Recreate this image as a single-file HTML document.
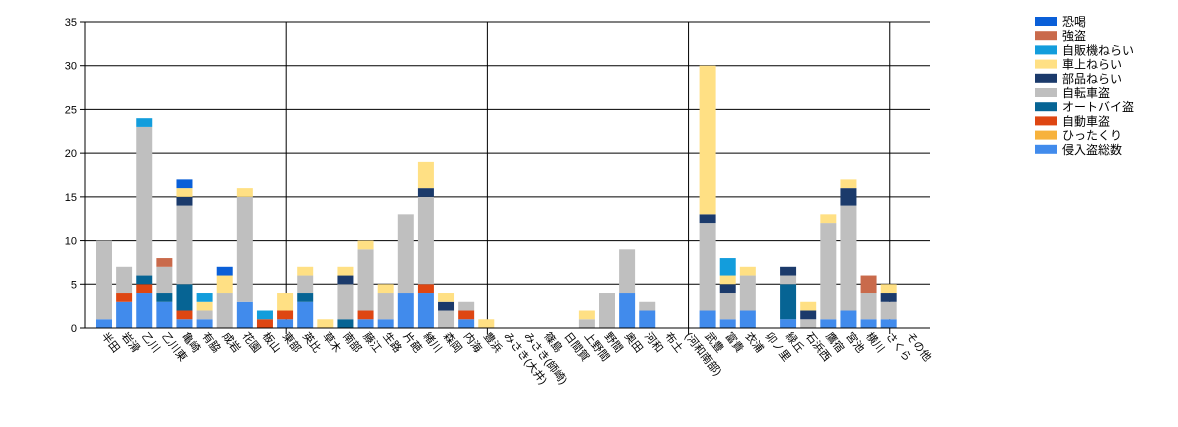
<!DOCTYPE html>
<html><head><meta charset="utf-8"><style>
body{margin:0;background:#fff;}
svg{display:block;font-family:"Liberation Sans","Noto Sans CJK JP",sans-serif;}
</style></head><body>
<svg id="chart" width="1178" height="427">
<g id="grid"></g>
<g id="bars"></g>
<g id="axes"></g>
<g id="legend"></g>
</svg>
<script>
const categories=["半田","岩滑","乙川","乙川東","亀崎","有脇","成岩","花園","板山","東部","英比","草木","南部","藤江","生路","片葩","緒川","森岡","内海","豊浜","みさき(大井)","みさき(師崎)","篠島","日間賀","上野間","野間","奥田","河和","布土","(河和南部)","武豊","富貴","衣浦","卯ノ里","緑丘","石浜西","鷹宿","宮池","横川","さくら","その他"];
const seriesNames=["侵入盗総数","ひったくり","自動車盗","オートバイ盗","自転車盗","部品ねらい","車上ねらい","自販機ねらい","強盗","恐喝"];
const seriesColors=["#418bec","#f7b23c","#de4612","#066494","#bfbfbf","#1b3a6b","#ffe084","#139ddc","#c96a4b","#0a5fd8"];
const shinnyu=[1,3,4,3,1,1,0,3,0,1,3,0,0,1,1,4,4,0,1,0,0,0,0,0,0,0,4,2,0,0,2,1,2,0,1,0,1,2,1,1,0];
const hittakuri=[0,0,0,0,0,0,0,0,0,0,0,0,0,0,0,0,0,0,0,0,0,0,0,0,0,0,0,0,0,0,0,0,0,0,0,0,0,0,0,0,0];
const jidosha=[0,1,1,0,1,0,0,0,1,1,0,0,0,1,0,0,1,0,1,0,0,0,0,0,0,0,0,0,0,0,0,0,0,0,0,0,0,0,0,0,0];
const autobike=[0,0,1,1,3,0,0,0,0,0,1,0,1,0,0,0,0,0,0,0,0,0,0,0,0,0,0,0,0,0,0,0,0,0,4,0,0,0,0,0,0];
const jitensha=[9,3,17,3,9,1,4,12,0,0,2,0,4,7,3,9,10,2,1,0,0,0,0,0,1,4,5,1,0,0,10,3,4,0,1,1,11,12,3,2,0];
const buhin=[0,0,0,0,1,0,0,0,0,0,0,0,1,0,0,0,1,1,0,0,0,0,0,0,0,0,0,0,0,0,1,1,0,0,1,1,0,2,0,1,0];
const shajo=[0,0,0,0,1,1,2,1,0,2,1,1,1,1,1,0,3,1,0,1,0,0,0,0,1,0,0,0,0,0,17,1,1,0,0,1,1,1,0,1,0];
const jihanki=[0,0,1,0,0,1,0,0,1,0,0,0,0,0,0,0,0,0,0,0,0,0,0,0,0,0,0,0,0,0,0,2,0,0,0,0,0,0,0,0,0];
const goto=[0,0,0,1,0,0,0,0,0,0,0,0,0,0,0,0,0,0,0,0,0,0,0,0,0,0,0,0,0,0,0,0,0,0,0,0,0,0,2,0,0];
const kyokatsu=[0,0,0,0,1,0,1,0,0,0,0,0,0,0,0,0,0,0,0,0,0,0,0,0,0,0,0,0,0,0,0,0,0,0,0,0,0,0,0,0,0];
const yTicks=[0,5,10,15,20,25,30,35];
const series=[shinnyu,hittakuri,jidosha,autobike,jitensha,buhin,shajo,jihanki,goto,kyokatsu];

const NS="http://www.w3.org/2000/svg";
const X0=85,X1=930,Y0=328,YMAX=35,YTOP=22;
const step=20.12, first=104, bw=16;
const xc=i=>first+i*step;
const y=v=>Y0-(v/YMAX)*(Y0-YTOP);
function mk(tag,attrs,parent){const e=document.createElementNS(NS,tag);for(const k in attrs)e.setAttribute(k,attrs[k]);parent.appendChild(e);return e;}
const grid=document.getElementById('grid'),bars=document.getElementById('bars'),axes=document.getElementById('axes'),legend=document.getElementById('legend');

yTicks.forEach(t=>{
  if(t>0){const l=mk('line',{x1:X0,x2:X1,y1:y(t),y2:y(t),stroke:'#000','stroke-width':1},grid);
  
  }
  const tk=mk('line',{x1:X0-5,x2:X0,y1:y(t),y2:y(t),stroke:'#000'},axes);
  
  
  const tx=mk('text',{x:X0-8,y:y(t)+4,'text-anchor':'end','font-size':11,fill:'#000'},axes);
  tx.textContent=t;
  
  
});
[1,2,3,4].forEach(k=>{
  const gx=X0+k*(X1-X0)/4.2;
  const l=mk('line',{x1:gx,x2:gx,y1:YTOP,y2:Y0+6,stroke:'#000'},grid);
  
  
});
categories.forEach((c,i)=>{
  let acc=0;
  series.forEach((s,j)=>{
    const v=s[i];if(!v)return;
    const r=mk('rect',{x:xc(i)-bw/2,y:y(acc+v),width:bw,height:y(acc)-y(acc+v),fill:seriesColors[j]},bars);
    
    
    acc+=v;
  });
  const t=mk('text',{x:0,y:0,'font-size':11,fill:'#000',transform:`translate(${xc(i)-3},${Y0+8}) rotate(52)`},axes);
  t.textContent=c;
  
  
});
const ax=mk('line',{x1:X0,x2:X1,y1:Y0,y2:Y0,stroke:'#000'},axes);


const ay=mk('line',{x1:X0,x2:X0,y1:YTOP,y2:Y0,stroke:'#000'},axes);



const order=[...seriesNames.keys()].reverse();
order.forEach((j,k)=>{
  const yy=17+k*14.2;
  const r=mk('rect',{x:1035,y:yy,width:22,height:9,fill:seriesColors[j]},legend);
  
  
  const t=mk('text',{x:1062,y:yy+9,'font-size':12,fill:'#000'},legend);
  t.textContent=seriesNames[j];
  
  
});
</script>
</body></html>
